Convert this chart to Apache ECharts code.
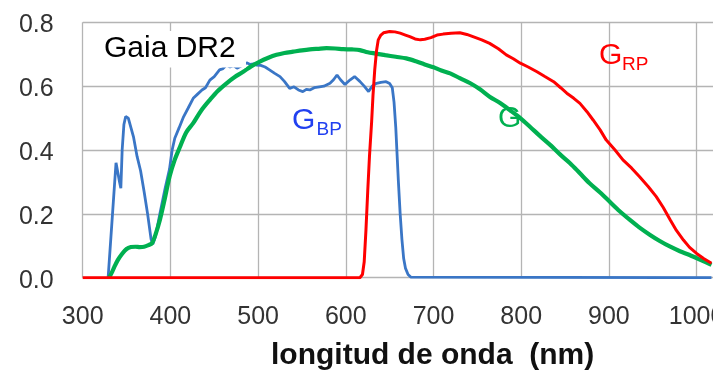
<!DOCTYPE html>
<html>
<head>
<meta charset="utf-8">
<script src="https://cdn.jsdelivr.net/npm/echarts@6/dist/echarts.min.js"></script>
<style>
html,body{margin:0;padding:0;background:#fff;}
#chart{width:713px;height:378px;}
</style>
</head>
<body>
<div id="chart"></div>
<script>
// ---- Data ----
var xTicks = [300, 400, 500, 600, 700, 800, 900, 1000];
var yTicks = [0.0, 0.2, 0.4, 0.6, 0.8];

var bpWavelength = [329,334,338,340,342,343.5,345,347,349,352,354,358,362,366,370,374,378,380,383,388,394,399,402,405,410,415,420,426,431,436,440,445,450,456,460,464,468,472,476,480,484,487,491,495,498,503,508,513,519,525,530,536,541,546,551,555,559,564,570,575,582,586,590,594,599,605,610,616,621,626,630,635,640,646,650,653,655,657,660,662,664,666,668,671,674,676,1017];
var bpValues = [0,0.2,0.36,0.33,0.3,0.28,0.4,0.48,0.505,0.5,0.495,0.44,0.38,0.335,0.27,0.2,0.12,0.105,0.13,0.2,0.28,0.34,0.4,0.437,0.47,0.504,0.53,0.562,0.575,0.588,0.595,0.619,0.63,0.651,0.655,0.666,0.66,0.665,0.656,0.662,0.668,0.673,0.668,0.67,0.666,0.665,0.66,0.651,0.64,0.63,0.615,0.593,0.598,0.588,0.583,0.59,0.588,0.595,0.598,0.6,0.609,0.62,0.635,0.62,0.605,0.62,0.63,0.615,0.6,0.583,0.6,0.609,0.612,0.614,0.608,0.595,0.55,0.47,0.3,0.2,0.12,0.06,0.03,0.01,0.002,0,0];

var gWavelength = [330,333,336,340,345,350,355,360,365,370,375,379,383,388,393,399,405,411,418,426,435,445,454,464,473,483,492,502,511,521,530,540,550,559,568,578,588,597,607,616,625,634,645,657,669,680,690,700,709,719,730,742,753,764,776,787,799,810,821,833,844,856,867,878,890,901,912,924,935,947,958,970,981,992,1005,1017];
var gValues = [0,0.015,0.033,0.055,0.075,0.09,0.096,0.097,0.096,0.097,0.102,0.108,0.135,0.181,0.24,0.316,0.37,0.41,0.455,0.484,0.523,0.557,0.585,0.609,0.628,0.645,0.662,0.677,0.688,0.698,0.704,0.708,0.712,0.715,0.717,0.719,0.718,0.716,0.715,0.713,0.706,0.702,0.697,0.692,0.687,0.678,0.668,0.659,0.649,0.64,0.625,0.609,0.59,0.567,0.547,0.525,0.5,0.473,0.445,0.416,0.387,0.358,0.327,0.296,0.267,0.238,0.209,0.181,0.157,0.134,0.115,0.097,0.083,0.071,0.055,0.04];

var rpWavelength = [300,616,619,621,623,625,627,629.5,631,633,635,637,640,643,650,656,662,668,673,679,685,690,697,704,711,720,730,738,745,755,764,774,783,791,799,808,818,827,837,845,852,860,867,875,882,890,897,907,916,926,935,945,954,962,970,977,985,992,1000,1008,1017];
var rpValues = [0,0,0.01,0.05,0.15,0.27,0.38,0.49,0.57,0.651,0.71,0.745,0.76,0.767,0.771,0.77,0.766,0.76,0.755,0.748,0.745,0.747,0.752,0.76,0.763,0.766,0.767,0.762,0.755,0.745,0.734,0.717,0.698,0.686,0.672,0.66,0.645,0.63,0.614,0.595,0.578,0.562,0.546,0.52,0.494,0.463,0.431,0.4,0.369,0.343,0.316,0.285,0.254,0.22,0.181,0.148,0.118,0.095,0.076,0.06,0.045];

var titleText = 'Gaia DR2';
var axisTitle = 'longitud de onda  (nm)';

function pairs(xs, ys){ return xs.map(function(x,i){ return [x, ys[i]]; }); }

var FONT = '"Liberation Sans", Arial, sans-serif';
var chart = echarts.init(document.getElementById('chart'), null, {renderer:'canvas'});

var option = {
  animation: false,
  backgroundColor: '#ffffff',
  grid: { left: 82.7, top: 22.3, right: -2, bottom: 100.3, containLabel: false, outerBoundsMode: 'none' },
  xAxis: {
    type: 'value', min: xTicks[0], max: 1021, interval: 100,
    axisLine: { show: false }, axisTick: { show: false },
    splitLine: { show: true, lineStyle: { color: '#b4b4b4', width: 1.3 } },
    axisLabel: {
      margin: 27, color: '#333333', fontSize: 25, fontFamily: FONT,
      showMaxLabel: true, hideOverlap: false,
      formatter: function(v){ return xTicks.indexOf(v) >= 0 ? String(v) : ''; }
    }
  },
  yAxis: {
    type: 'value', min: yTicks[0], max: yTicks[yTicks.length-1], interval: 0.2,
    axisLine: { show: false }, axisTick: { show: false },
    splitLine: { show: true, lineStyle: { color: '#b4b4b4', width: 1.3 } },
    axisLabel: {
      margin: 29, color: '#333333', fontSize: 25, fontFamily: FONT,
      formatter: function(v){ return '{a|' + v.toFixed(1) + '}'; },
      rich: { a: { fontSize: 25, fontFamily: FONT, color: '#333333', padding: [6, 0, 0, 0] } }
    }
  },
  series: [
    { name: 'G_BP', type: 'line', data: pairs(bpWavelength, bpValues), showSymbol: false, symbol: 'none',
      lineStyle: { color: '#3a76c6', width: 2.8 }, z: 2 },
    { name: 'G', type: 'line', data: pairs(gWavelength, gValues), showSymbol: false, symbol: 'none', smooth: 0.3,
      lineStyle: { color: '#00b050', width: 4.2 }, z: 3 },
    { name: 'G_RP', type: 'line', data: pairs(rpWavelength, rpValues), showSymbol: false, symbol: 'none',
      lineStyle: { color: '#ff0000', width: 3 }, z: 4 }
  ],
  graphic: [
    { type: 'rect', z: 100, shape: { x: 100, y: 31, width: 146, height: 36.5 }, style: { fill: '#ffffff' } },
    { type: 'text', z: 101, x: 104, y: 49, style: { text: titleText, font: '30px ' + FONT, fill: '#000000', verticalAlign: 'middle', align: 'left' } },
    { type: 'text', z: 101, x: 292, y: 121, style: { text: 'G', font: '30px ' + FONT, fill: '#2140f0', verticalAlign: 'middle', align: 'left' } },
    { type: 'text', z: 101, x: 316.5, y: 129.5, style: { text: 'BP', font: '19px ' + FONT, fill: '#2140f0', verticalAlign: 'middle', align: 'left' } },
    { type: 'text', z: 101, x: 599, y: 56, style: { text: 'G', font: '30px ' + FONT, fill: '#ff0000', verticalAlign: 'middle', align: 'left' } },
    { type: 'text', z: 101, x: 622, y: 65, style: { text: 'RP', font: '19px ' + FONT, fill: '#ff0000', verticalAlign: 'middle', align: 'left' } },
    { type: 'text', z: 1, x: 498, y: 119, style: { text: 'G', font: '30px ' + FONT, fill: '#00b050', verticalAlign: 'middle', align: 'left' } },
    { type: 'text', z: 101, x: 271, y: 355.5, style: { text: axisTitle, font: 'bold 30px ' + FONT, fill: '#111111', verticalAlign: 'middle', align: 'left' } }
  ]
};
chart.setOption(option);
</script>
</body>
</html>
